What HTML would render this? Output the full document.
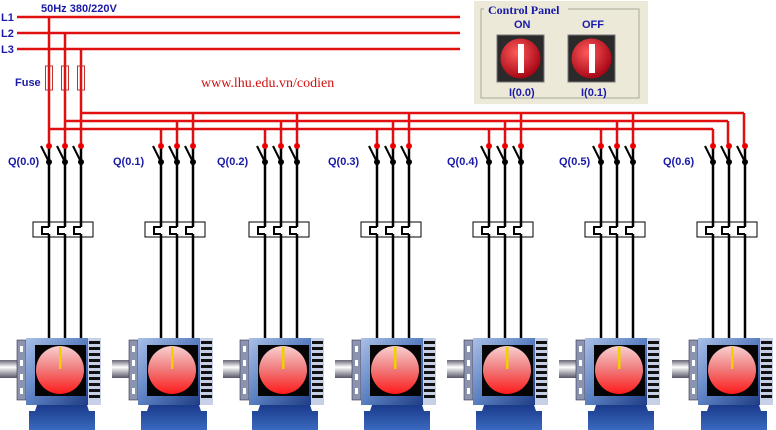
<!DOCTYPE html>
<html><head><meta charset="utf-8"><style>
html,body{margin:0;padding:0;background:#fff;width:776px;height:430px;overflow:hidden}
svg{display:block}
.q{font:bold 11px "Liberation Sans",sans-serif;fill:#1a1aa8}
</style></head><body>
<svg width="776" height="430" viewBox="0 0 776 430" xmlns="http://www.w3.org/2000/svg">
<defs>
<linearGradient id="shaft" x1="0" y1="0" x2="0" y2="1"><stop offset="0" stop-color="#667"/><stop offset=".4" stop-color="#fff"/><stop offset="1" stop-color="#556"/></linearGradient>
<linearGradient id="body" x1="0" y1="0" x2="1" y2="1"><stop offset="0" stop-color="#a9c0e8"/><stop offset=".5" stop-color="#5a7fc0"/><stop offset="1" stop-color="#1f3d85"/></linearGradient>
<linearGradient id="disc" x1="0" y1="0" x2="0" y2="1"><stop offset="0" stop-color="#f8d0d0"/><stop offset=".5" stop-color="#f07878"/><stop offset="1" stop-color="#ff1a1a"/></linearGradient>
<linearGradient id="base" x1="0" y1="0" x2="0" y2="1"><stop offset="0" stop-color="#1a3a8a"/><stop offset="1" stop-color="#3a6ac0"/></linearGradient>
<radialGradient id="btn" cx=".4" cy=".35" r=".7"><stop offset="0" stop-color="#ff5a5a"/><stop offset="1" stop-color="#a00010"/></radialGradient>
<g id="motor">
<rect x="-17" y="360" width="19" height="18" fill="url(#shaft)"/>
<rect x="0" y="340" width="9" height="60" fill="#8a94b0" stroke="#334" stroke-width=".6"/>
<rect x="3" y="346" width="3" height="6" fill="#fff"/><rect x="3" y="360" width="3" height="6" fill="#fff"/><rect x="3" y="374" width="3" height="6" fill="#fff"/><rect x="3" y="388" width="3" height="6" fill="#fff"/>
<path d="M20 405 h50 l2 6 h6 v19 h-66 v-19 h6z" fill="url(#base)"/>
<rect x="9" y="338" width="62" height="67" fill="url(#body)"/>
<rect x="71" y="338" width="13" height="67" fill="#c8d0e8"/>
<g fill="#111"><rect x="72" y="341" width="11" height="3"/><rect x="72" y="347" width="11" height="3"/><rect x="72" y="353" width="11" height="3"/><rect x="72" y="359" width="11" height="3"/><rect x="72" y="365" width="11" height="3"/><rect x="72" y="371" width="11" height="3"/><rect x="72" y="377" width="11" height="3"/><rect x="72" y="383" width="11" height="3"/><rect x="72" y="389" width="11" height="3"/><rect x="72" y="395" width="11" height="3"/></g>
<rect x="18" y="345" width="51" height="51" fill="#050505"/>
<circle cx="43" cy="370" r="24" fill="url(#disc)"/>
<rect x="42" y="347" width="2.5" height="22" fill="#f0d000"/>
</g>
<g id="sw">
<line x1="0" y1="146" x2="0" y2="227" stroke="#000" stroke-width="2.5"/>
<line x1="0" y1="234" x2="0" y2="338" stroke="#000" stroke-width="2.5"/>
<line x1="-8" y1="146" x2="0" y2="162" stroke="#000" stroke-width="2"/>
<circle cx="0" cy="146" r="3" fill="#e00"/>
<circle cx="0" cy="162" r="3" fill="#000"/>
<path d="M0 227 H-7 V234 H0" fill="none" stroke="#000" stroke-width="2"/>
</g>
<g id="grp">
<rect x="-16" y="222" width="60" height="15" fill="#fff" stroke="#000" stroke-width="1"/>
<use href="#sw" x="0"/><use href="#sw" x="16"/><use href="#sw" x="32"/>
</g>
</defs>

<g stroke="#e01010" stroke-width="2.5" fill="none">
<line x1="17" y1="17" x2="460" y2="17"/>
<line x1="17" y1="33" x2="460" y2="33"/>
<line x1="17" y1="49" x2="460" y2="49"/>
<line x1="49" y1="17" x2="49" y2="146"/>
<line x1="65" y1="33" x2="65" y2="146"/>
<line x1="81" y1="49" x2="81" y2="146"/>
<line x1="81" y1="113" x2="744" y2="113"/>
<line x1="65" y1="121" x2="728" y2="121"/>
<line x1="49" y1="129" x2="713" y2="129"/>
<path d="M161 129V146M177 121V146M193 113V146"/>
<path d="M265 129V146M281 121V146M297 113V146"/>
<path d="M377 129V146M393 121V146M409 113V146"/>
<path d="M489 129V146M505 121V146M521 113V146"/>
<path d="M601 129V146M617 121V146M633 113V146"/>
<path d="M713 129V146M728 121V146M744 113V146"/>
</g>
<g fill="#fff" stroke="#c03030" stroke-width="1">
<rect x="45.5" y="66" width="7" height="24"/><rect x="61.5" y="66" width="7" height="24"/><rect x="77.5" y="66" width="7" height="24"/>
</g>
<g stroke="#e01010" stroke-width="2.5"><path d="M49 66V90M65 66V90M81 66V90"/></g>

<text x="1" y="21" class="q">L1</text>
<text x="1" y="37" class="q">L2</text>
<text x="1" y="53" class="q">L3</text>
<text x="41" y="12" class="q" font-size="10">50Hz 380/220V</text>
<text x="15" y="86" class="q">Fuse</text>
<text x="201" y="87" font-family="Liberation Serif,serif" font-size="14" fill="#d01010">www.lhu.edu.vn/codien</text>

<use href="#grp" x="49"/><use href="#grp" x="161"/><use href="#grp" x="265"/><use href="#grp" x="377"/><use href="#grp" x="489"/><use href="#grp" x="601"/><use href="#grp" x="713"/>

<text x="8" y="165" class="q">Q(0.0)</text>
<text x="113" y="165" class="q">Q(0.1)</text>
<text x="217" y="165" class="q">Q(0.2)</text>
<text x="328" y="165" class="q">Q(0.3)</text>
<text x="447" y="165" class="q">Q(0.4)</text>
<text x="559" y="165" class="q">Q(0.5)</text>
<text x="663" y="165" class="q">Q(0.6)</text>

<use href="#motor" x="17"/><use href="#motor" x="129"/><use href="#motor" x="240"/><use href="#motor" x="352"/><use href="#motor" x="464"/><use href="#motor" x="576"/><use href="#motor" x="689"/>

<rect x="474" y="1" width="174" height="103" fill="#ece9d8"/>
<path d="M484 9 H481 V98 H639 V9 H568" fill="none" stroke="#a8a89a" stroke-width="1"/>
<text x="488" y="14" font-family="Liberation Serif,serif" font-weight="bold" font-size="12" fill="#1a1aa8">Control Panel</text>
<text x="514" y="28" class="q" font-size="9">ON</text>
<text x="582" y="28" class="q" font-size="9">OFF</text>
<rect x="497" y="35" width="47" height="47" fill="#2a2a2a" stroke="#777"/>
<rect x="568" y="35" width="47" height="47" fill="#2a2a2a" stroke="#777"/>
<circle cx="520.5" cy="58.5" r="20" fill="url(#btn)"/>
<circle cx="591.5" cy="58.5" r="20" fill="url(#btn)"/>
<rect x="518" y="44" width="6" height="29" fill="#fff"/>
<rect x="589" y="44" width="6" height="29" fill="#fff"/>
<text x="509" y="96" class="q" font-size="9">I(0.0)</text>
<text x="581" y="96" class="q" font-size="9">I(0.1)</text>
</svg>
</body></html>
